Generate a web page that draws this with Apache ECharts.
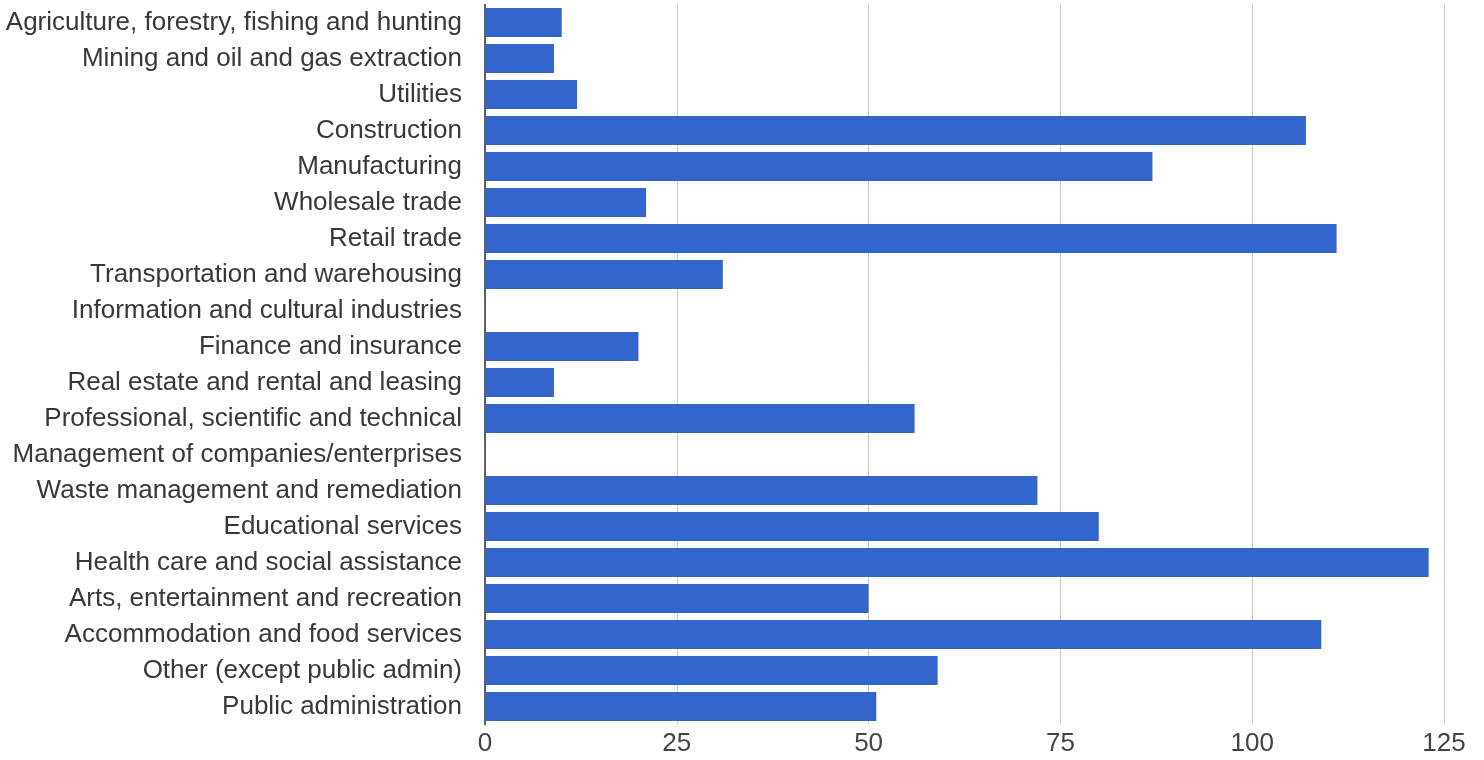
<!DOCTYPE html>
<html>
<head>
<meta charset="utf-8">
<script src="https://cdn.jsdelivr.net/npm/echarts@6/dist/echarts.min.js"></script>
<style>
html,body{margin:0;padding:0;background:#fff;}
#chart{width:1484px;height:760px;}
</style>
</head>
<body>
<div id="chart"></div>
<script>
const categories = [
  "Agriculture, forestry, fishing and hunting",
  "Mining and oil and gas extraction",
  "Utilities",
  "Construction",
  "Manufacturing",
  "Wholesale trade",
  "Retail trade",
  "Transportation and warehousing",
  "Information and cultural industries",
  "Finance and insurance",
  "Real estate and rental and leasing",
  "Professional, scientific and technical",
  "Management of companies/enterprises",
  "Waste management and remediation",
  "Educational services",
  "Health care and social assistance",
  "Arts, entertainment and recreation",
  "Accommodation and food services",
  "Other (except public admin)",
  "Public administration"
];
const values = [10, 9, 12, 107, 87, 21, 111, 31, 0, 20, 9, 56, 0, 72, 80, 123, 50, 109, 59, 51];
const xTicks = [0, 25, 50, 75, 100, 125];

const chart = echarts.init(document.getElementById('chart'), null, {renderer: 'canvas'});
chart.setOption({
  animation: false,
  backgroundColor: '#ffffff',
  grid: {left: 485, right: 40, top: 4.5, bottom: 35.5, containLabel: false},
  xAxis: {
    type: 'value',
    min: xTicks[0],
    max: xTicks[xTicks.length - 1],
    interval: xTicks[1] - xTicks[0],
    axisLine: {show: false},
    axisTick: {show: false},
    splitLine: {show: true, lineStyle: {color: '#cccccc', width: 1}},
    axisLabel: {color: '#444444', fontFamily: 'Liberation Sans', fontSize: 26, margin: 6}
  },
  yAxis: {
    type: 'category',
    inverse: true,
    data: categories,
    axisLine: {show: true, lineStyle: {color: '#333333', width: 1.5}},
    axisTick: {show: false},
    splitLine: {show: false},
    axisLabel: {color: '#383838', fontFamily: 'Liberation Sans', fontSize: 26, margin: 23}
  },
  series: [{
    type: 'bar',
    data: values,
    barCategoryGap: '19.4%',
    itemStyle: {color: '#3366cc'}
  }]
});
</script>
</body>
</html>
